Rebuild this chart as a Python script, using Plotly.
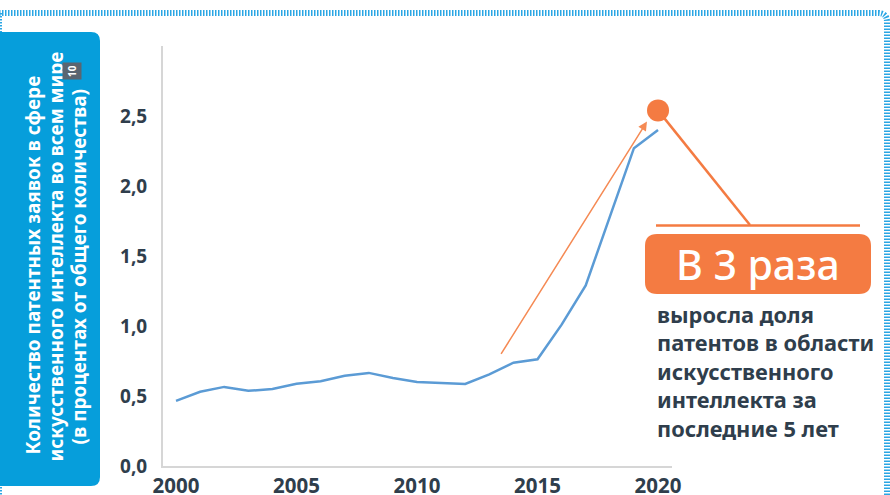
import plotly.graph_objects as go

# ---------------- data ----------------
years = list(range(2000, 2021))
share = [0.465, 0.53, 0.565, 0.537, 0.55, 0.588, 0.605, 0.645, 0.665, 0.628,
         0.600, 0.595, 0.586, 0.655, 0.738, 0.762, 1.01, 1.29, 1.78, 2.27, 2.40]
y_ticks = [0, 0.5, 1.0, 1.5, 2.0, 2.5]
x_ticks = [2000, 2005, 2010, 2015, 2020]
highlight_year = [2020]
highlight_value = [2.54]
arrow_from = [2013.45, 0.79]
arrow_to = [2019.54, 2.46]

y_title_lines = ["Количество патентных заявок в сфере",
                 "искусственного интеллекта во всем мире",
                 "(в процентах от общего количества)"]
footnote = "10"
badge_text = "В 3 раза"
caption_lines = ["выросла доля", "патентов в области", "искусственного",
                 "интеллекта за", "последние 5 лет"]

# ---------------- layout helpers ----------------
W, H = 890, 495
L, R, T, B = 163, 218, 46, 29
PW, PH = W - L - R, H - T - B
X_RANGE = [1999.46, 2020.58]
Y_RANGE = [0, 3.0]

def px(x):
    return (x - L) / PW

def py(y):
    return (H - B - y) / PH

def data_to_px(x, y):
    return (L + (x - X_RANGE[0]) / (X_RANGE[1] - X_RANGE[0]) * PW,
            H - B - (y - Y_RANGE[0]) / (Y_RANGE[1] - Y_RANGE[0]) * PH)

def rrect(x0, y0, x1, y1, r, left_round=True):
    if left_round:
        return (f"M {px(x0 + r)},{py(y0)} L {px(x1 - r)},{py(y0)} "
                f"Q {px(x1)},{py(y0)} {px(x1)},{py(y0 + r)} L {px(x1)},{py(y1 - r)} "
                f"Q {px(x1)},{py(y1)} {px(x1 - r)},{py(y1)} L {px(x0 + r)},{py(y1)} "
                f"Q {px(x0)},{py(y1)} {px(x0)},{py(y1 - r)} L {px(x0)},{py(y0 + r)} "
                f"Q {px(x0)},{py(y0)} {px(x0 + r)},{py(y0)} Z")
    return (f"M {px(x0)},{py(y0)} L {px(x1 - r)},{py(y0)} "
            f"Q {px(x1)},{py(y0)} {px(x1)},{py(y0 + r)} L {px(x1)},{py(y1 - r)} "
            f"Q {px(x1)},{py(y1)} {px(x1 - r)},{py(y1)} L {px(x0)},{py(y1)} Z")

BLUE = "#5b9bd5"
ORANGE = "#f47b42"
DARK = "#2f3e4c"
FONT = "Noto Sans"

fig = go.Figure()
fig.add_trace(go.Scatter(x=years, y=share, mode="lines",
                         line=dict(color=BLUE, width=2.5), hoverinfo="skip"))
fig.add_trace(go.Scatter(x=highlight_year, y=highlight_value, mode="markers",
                         marker=dict(color=ORANGE, size=22), hoverinfo="skip"))

dot_x, dot_y = data_to_px(highlight_year[0], highlight_value[0])

shapes = [
    # dashed frame
    dict(type="path", xref="paper", yref="paper",
         path=(f"M {px(-10)},{py(13)} L {px(878)},{py(13)} "
               f"Q {px(887)},{py(13)} {px(887)},{py(22)} L {px(887)},{py(505)}"),
         line=dict(color="#2aa6e4", width=6, dash="1.5px,1.5px")),
    dict(type="line", xref="paper", yref="paper",
         x0=px(0), x1=px(0), y0=py(13), y1=py(505),
         line=dict(color="#2aa6e4", width=4, dash="1.5px,1.5px")),
    # blue label box
    dict(type="path", xref="paper", yref="paper",
         path=rrect(-12, 32, 100, 486, 9, left_round=False),
         fillcolor="#069edb", line=dict(width=0)),
    # orange connector
    dict(type="line", xref="paper", yref="paper",
         x0=px(dot_x), y0=py(dot_y), x1=px(750), y1=py(225),
         line=dict(color=ORANGE, width=2.5)),
    dict(type="line", xref="paper", yref="paper",
         x0=px(656), y0=py(225.5), x1=px(860), y1=py(225.5),
         line=dict(color=ORANGE, width=2.5)),
    # orange badge
    dict(type="path", xref="paper", yref="paper",
         path=rrect(645, 234, 871, 294, 12),
         fillcolor=ORANGE, line=dict(width=0)),
]

annotations = [
    dict(x=arrow_to[0], y=arrow_to[1], ax=arrow_from[0], ay=arrow_from[1],
         xref="x", yref="y", axref="x", ayref="y", text="", showarrow=True,
         arrowhead=2, arrowsize=1.2, arrowwidth=1.5, arrowcolor="#f58a54"),
    dict(x=px(758), y=py(264), xref="paper", yref="paper", text=badge_text,
         showarrow=False, xanchor="center", yanchor="middle",
         font=dict(family=FONT, size=41, color="white", weight=500)),
]
for line, cy in zip(caption_lines, [314, 342.5, 371, 399.5, 428]):
    annotations.append(dict(x=px(655), y=py(cy), xref="paper", yref="paper",
                            text=line, showarrow=False, xanchor="left",
                            yanchor="middle", align="left",
                            font=dict(family=FONT, size=21.8, color=DARK, weight="bold")))
for line, cx, cy in zip(y_title_lines, [32.5, 55.5, 78.5], [265, 257, 267]):
    annotations.append(dict(x=px(cx), y=py(cy), xref="paper", yref="paper",
                            text=line, showarrow=False, textangle=-90,
                            xanchor="center", yanchor="middle",
                            font=dict(family=FONT, size=19, color="white", weight="bold")))
annotations.append(dict(x=px(72), y=py(71), xref="paper", yref="paper",
                        text=footnote, showarrow=False, textangle=-90,
                        xanchor="center", yanchor="middle", bgcolor="#5b6570",
                        borderpad=2,
                        font=dict(family=FONT, size=10, color="white", weight="bold")))

fig.update_layout(
    width=W, height=H,
    margin=dict(l=L, r=R, t=T, b=B, pad=0, autoexpand=False),
    paper_bgcolor="white", plot_bgcolor="white",
    showlegend=False, separators=", ",
    shapes=shapes, annotations=annotations,
    xaxis=dict(range=X_RANGE, tickvals=x_ticks, showgrid=False, zeroline=False,
               automargin=False,
               showline=True, linecolor="#d6d6d6", linewidth=2,
               ticks="outside", ticklen=0, tickcolor="rgba(0,0,0,0)",
               tickfont=dict(family=FONT, size=20.5, color=DARK, weight="bold")),
    yaxis=dict(range=Y_RANGE, tickvals=y_ticks, tickformat=".1f", showgrid=False,
               automargin=False,
               zeroline=False, showline=True, linecolor="#d6d6d6", linewidth=2,
               ticks="outside", ticklen=10, tickcolor="rgba(0,0,0,0)",
               tickfont=dict(family=FONT, size=19, color=DARK, weight="bold")),
)

fig.write_html("out.html", config={"displayModeBar": False},
               post_script="document.body.style.margin='0';document.body.style.overflow='hidden';")
